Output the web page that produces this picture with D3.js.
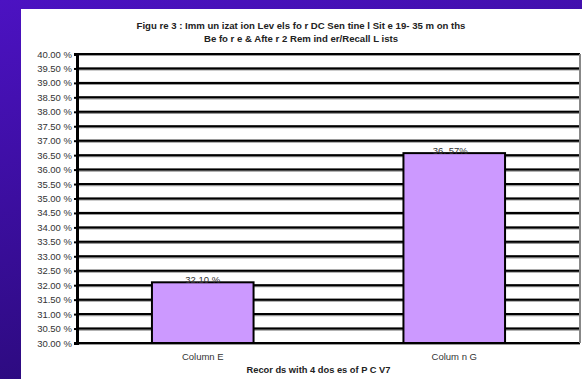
<!DOCTYPE html>
<html><head><meta charset="utf-8">
<script src="https://cdn.jsdelivr.net/npm/d3@7"></script>
<style>html,body{margin:0;padding:0;overflow:hidden;background:#3a0d9e}</style>
</head><body>
<script>
const categories = ["Column E", "Colum n G"];
const values = [32.10, 36.57];
const valueLabels = ["32.10 %", "36. 57%"];
const yTicks = [30,30.5,31,31.5,32,32.5,33,33.5,34,34.5,35,35.5,36,36.5,37,37.5,38,38.5,39,39.5,40];
const titleLines = ["Figu re 3 : Imm un izat ion Lev els fo r DC Sen tine l Sit e 19- 35 m on ths", "Be fo r e & Afte r 2 Rem ind er/Recall L ists"];
const xTitle = "Recor ds with  4 dos es of P C V7";

(function(){
const W = 582, H = 379;
const svg = d3.select("body").append("svg").attr("width", W).attr("height", H);
const defs = svg.append("defs");
const g1 = defs.append("linearGradient").attr("id","bg").attr("x1","0").attr("y1","0").attr("x2","0.3").attr("y2","1");
g1.append("stop").attr("offset","0").attr("stop-color","#4c12c2");
g1.append("stop").attr("offset","1").attr("stop-color","#2b0a7c");
svg.append("rect").attr("width",W).attr("height",H).attr("fill","url(#bg)");
svg.append("rect").attr("x",21).attr("y",9).attr("width",W-21).attr("height",H-9).attr("fill","#fff");

const pl = 77, pr = 580, pt = 54, pb = 343;
const y = d3.scaleLinear().domain([30,40]).range([pb, pt]);
const x = d3.scaleBand().domain(categories).range([pl, pr]).paddingInner(0.596).paddingOuter(0.298);

const grid = svg.append("g");
grid.selectAll("line.s").data(yTicks).join("line")
  .attr("x1",pl).attr("x2",pr).attr("y1",d=>y(d)+0.5).attr("y2",d=>y(d)+0.5)
  .attr("stroke","#999").attr("stroke-width",3.2);
grid.selectAll("line.b").data(yTicks).join("line")
  .attr("x1",pl).attr("x2",pr).attr("y1",d=>y(d)).attr("y2",d=>y(d))
  .attr("stroke","#000").attr("stroke-width",2);
svg.append("line").attr("x1",pr).attr("x2",pr).attr("y1",pt).attr("y2",pb)
  .attr("stroke","#888").attr("stroke-width",2);

svg.selectAll("rect.bar").data(values).join("rect").attr("class","bar")
  .attr("x",(d,i)=>x(categories[i])).attr("width",x.bandwidth())
  .attr("y",d=>y(d)).attr("height",d=>y(30)-y(d))
  .attr("fill","#cc99ff").attr("stroke","#000").attr("stroke-width",2);

svg.selectAll("text.vl").data(values).join("text")
  .attr("x",(d,i)=>x(categories[i])+x.bandwidth()/2 - (i?4:0)).attr("y",d=>y(d)+1)
  .attr("text-anchor","middle").attr("font-family","Liberation Sans, Arial, sans-serif")
  .attr("font-size",9.5).attr("fill","#333").text((d,i)=>valueLabels[i]);

const yAxis = d3.axisLeft(y).tickValues(yTicks).tickSize(3).tickPadding(2)
  .tickFormat(d=>d3.format(".2f")(d)+" %");
const ya = svg.append("g").attr("transform",`translate(${pl},0)`).call(yAxis);
ya.select(".domain").attr("stroke","#000").attr("stroke-width",3);
ya.selectAll(".tick line").attr("stroke","#000").attr("stroke-width",2);
ya.selectAll(".tick text").attr("font-family","Liberation Sans, Arial, sans-serif").attr("font-size",9.5).attr("fill","#333");

const xAxis = d3.axisBottom(x).tickSize(0).tickPadding(10);
const xa = svg.append("g").attr("transform",`translate(0,${pb})`).call(xAxis);
xa.select(".domain").remove();
xa.selectAll(".tick text").attr("font-family","Liberation Sans, Arial, sans-serif").attr("font-size",9.5).attr("fill","#333");

svg.append("text").attr("x",(pl+pr)/2-10).attr("y",373).attr("text-anchor","middle")
  .attr("font-family","Liberation Sans, Arial, sans-serif").attr("font-size",9.3).attr("font-weight","bold").attr("fill","#222").text(xTitle);

svg.selectAll("text.title").data(titleLines).join("text")
  .attr("x",301).attr("y",(d,i)=>29+i*13).attr("text-anchor","middle")
  .attr("font-family","Liberation Sans, Arial, sans-serif").attr("font-size",9.6).attr("font-weight","bold").attr("fill","#222").text(d=>d);
})();
</script>
</body></html>
